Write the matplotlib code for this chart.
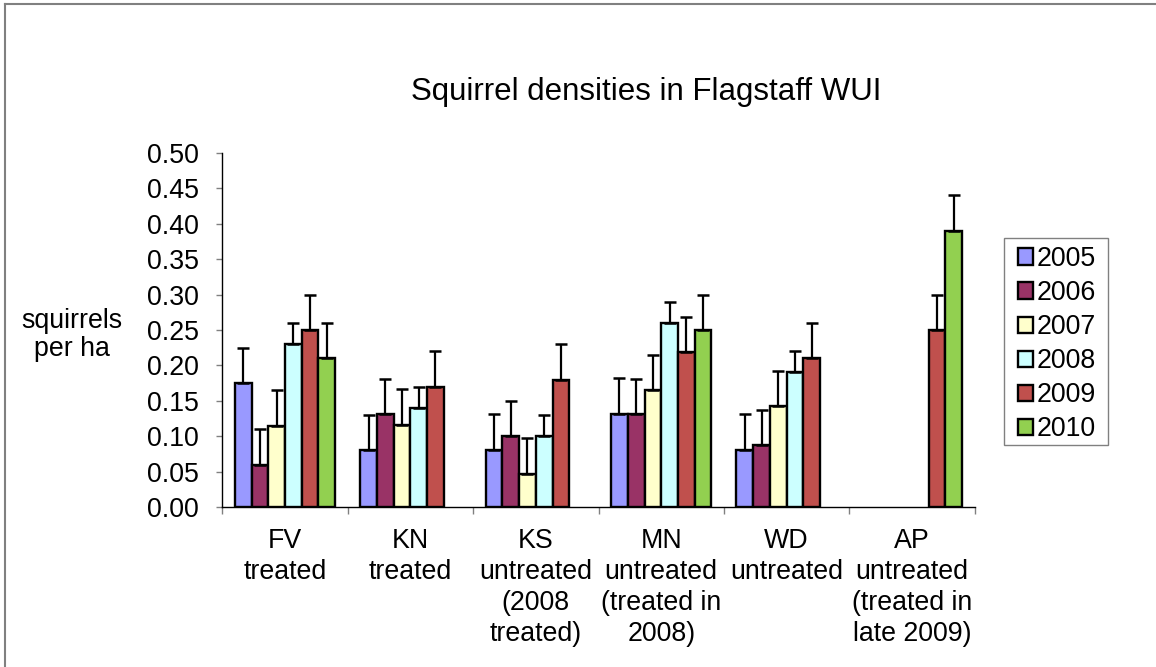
import matplotlib
matplotlib.use('Agg')
import matplotlib.pyplot as plt
import numpy as np
from matplotlib.lines import Line2D
from matplotlib.patches import Rectangle

# --- data ---
sites = ['FV\ntreated', 'KN\ntreated', 'KS\nuntreated\n(2008\ntreated)',
         'MN\nuntreated\n(treated in\n2008)', 'WD\nuntreated',
         'AP\nuntreated\n(treated in\nlate 2009)']
years = ['2005', '2006', '2007', '2008', '2009', '2010']
nan = np.nan
d2005 = [0.175, 0.080, 0.081, 0.132, 0.081, nan]
d2006 = [0.060, 0.131, 0.100, 0.131, 0.087, nan]
d2007 = [0.115, 0.116, 0.047, 0.165, 0.142, nan]
d2008 = [0.230, 0.140, 0.100, 0.260, 0.190, nan]
d2009 = [0.250, 0.170, 0.180, 0.219, 0.210, 0.250]
d2010 = [0.210, nan, nan, 0.250, nan, 0.390]
e2005 = [0.050, 0.050, 0.050, 0.050, 0.050, nan]
e2006 = [0.050, 0.050, 0.050, 0.050, 0.050, nan]
e2007 = [0.050, 0.050, 0.050, 0.050, 0.050, nan]
e2008 = [0.030, 0.030, 0.030, 0.029, 0.030, nan]
e2009 = [0.050, 0.050, 0.050, 0.050, 0.050, 0.050]
e2010 = [0.050, nan, nan, 0.050, nan, 0.050]
colors = ['#9999FF', '#993366', '#FFFFCC', '#CCFFFF', '#C0504D', '#92D050']

values = [d2005, d2006, d2007, d2008, d2009, d2010]
errors = [e2005, e2006, e2007, e2008, e2009, e2010]

plt.rcParams['font.family'] = ['Liberation Sans', 'DejaVu Sans']
fs = 19.3
W, H = 1156, 667

fig = plt.figure(figsize=(W / 100, H / 100), dpi=100)
ax = fig.add_axes([0.1923, 0.2399, 0.6509, 0.5307])

x = np.arange(len(sites))
w = 1 / 7.5
for i, (vals, errs) in enumerate(zip(values, errors)):
    vals = np.array(vals)
    errs = np.array(errs)
    ok = ~np.isnan(vals)
    pos = x[ok] + (i - 2.5) * w
    ax.bar(pos, vals[ok], width=w, color=colors[i], edgecolor='black',
           linewidth=1.7, label=years[i], zorder=2)
    ax.errorbar(pos, vals[ok], yerr=[np.zeros(ok.sum()), errs[ok]], fmt='none',
                ecolor='black', elinewidth=1.6, capsize=4.5, capthick=1.8, zorder=3)

ax.set_xlim(-0.5, len(sites) - 0.5)
ax.set_ylim(0, 0.5)
ax.set_yticks(np.arange(0, 0.501, 0.05))
ax.set_yticklabels(['%.2f' % v for v in np.arange(0, 0.501, 0.05)], fontsize=fs)
ax.tick_params(axis='y', length=4, color='#808080', pad=13, width=1)

ax.set_xticks(np.arange(-0.5, len(sites), 1.0))
ax.set_xticklabels([])
ax.tick_params(axis='x', which='major', length=5, color='#808080', width=1)
ax.set_xticks(x, minor=True)
ax.set_xticklabels(sites, minor=True, fontsize=fs, linespacing=1.26)
ax.tick_params(axis='x', which='minor', length=0, pad=15)

for s in ['top', 'right']:
    ax.spines[s].set_visible(False)
for s in ['left', 'bottom']:
    ax.spines[s].set_linewidth(1.0)
    ax.spines[s].set_color('black')

fig.text(645.8 / W, 1 - 100 / H, 'Squirrel densities in Flagstaff WUI',
         ha='center', va='baseline', fontsize=22.5)
fig.text(72 / W, 1 - 335 / H, 'squirrels\nper ha', ha='center', va='center',
         fontsize=fs, linespacing=1.15)

# legend entries without frame, frame drawn separately
leg = ax.legend(loc='upper left', bbox_to_anchor=(1018 / W, 1 - 246 / H),
                bbox_transform=fig.transFigure, fontsize=fs, frameon=False,
                handlelength=0.55, handleheight=0.55, handletextpad=0.15,
                labelspacing=0.3, borderpad=0, borderaxespad=0)
fig.add_artist(Rectangle((1004 / W, 1 - 445 / H), 104 / W, 207 / H,
                         transform=fig.transFigure, fill=False,
                         edgecolor='#808080', lw=1.0))

# outer chart border (top and left only visible)
fig.add_artist(Line2D([5 / W, 1], [1 - 3.5 / H, 1 - 3.5 / H],
                      transform=fig.transFigure, color='#808080', lw=1.5))
fig.add_artist(Line2D([5 / W, 5 / W], [0, 1 - 3.5 / H],
                      transform=fig.transFigure, color='#808080', lw=1.5))

fig.savefig('out.png', dpi=100)
